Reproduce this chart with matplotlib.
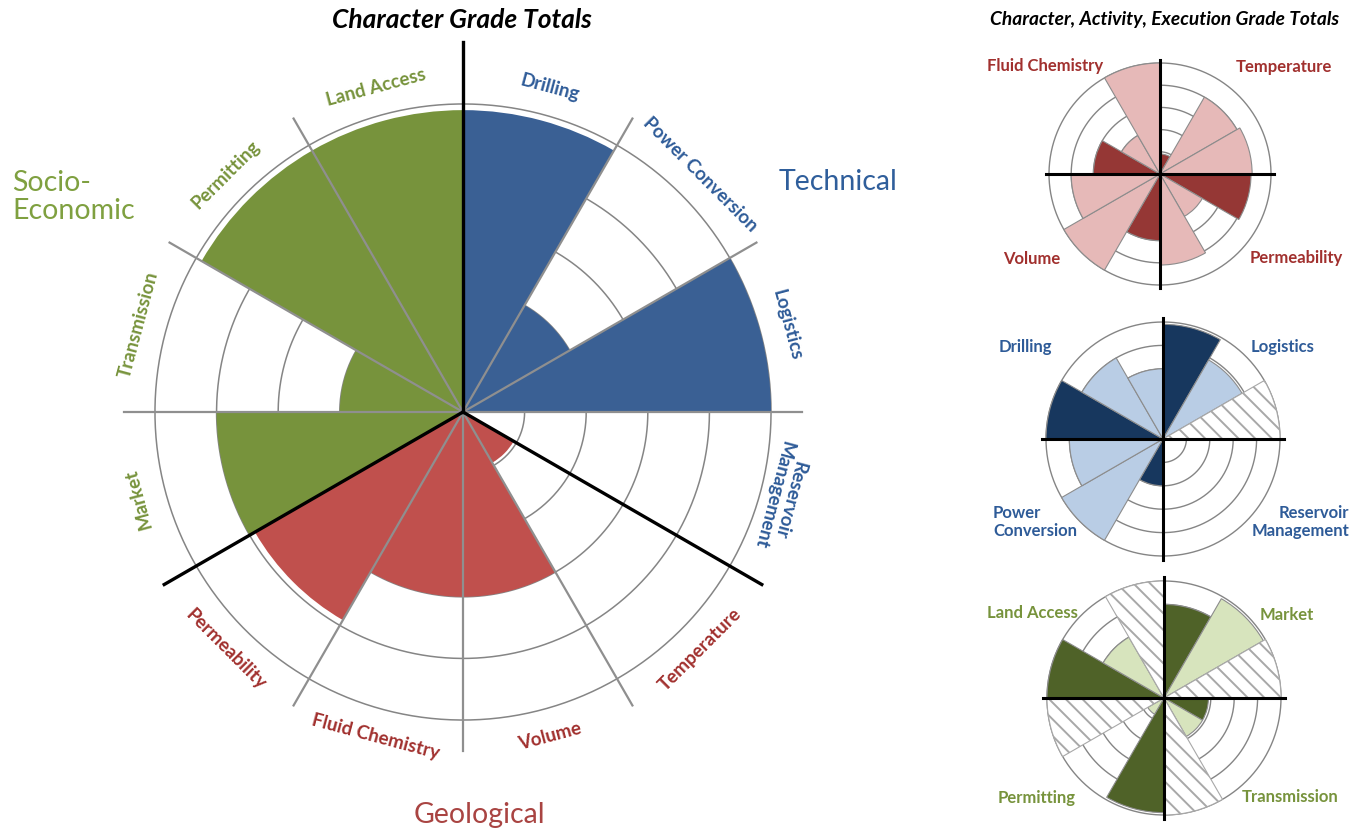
import numpy as np
import matplotlib.pyplot as plt

plt.rcParams['font.family'] = ['Lato', 'DejaVu Sans']
plt.rcParams['hatch.linewidth'] = 1.4

# main chart: character grade totals, sectors clockwise from north
categories = ['Drilling', 'Power Conversion', 'Logistics', 'Reservoir\nManagement',
              'Temperature', 'Volume', 'Fluid Chemistry', 'Permeability',
              'Market', 'Transmission', 'Permitting', 'Land Access']
groups = ['Technical'] * 4 + ['Geological'] * 4 + ['Socio-Economic'] * 4
character = [4.9, 2.0, 5.0, 0.0, 0.95, 3.0, 3.0, 3.9, 4.0, 2.0, 4.9, 4.9]

# small charts: character / activity / execution per quadrant (clockwise from north)
# nan = hatched (not graded)
geo_names = ['Temperature', 'Permeability', 'Volume', 'Fluid Chemistry']
geo_char = [0.9, 4.1, 3.0, 3.0]
geo_act = [4.0, 2.2, 5.0, 2.0]
geo_exec = [4.15, 4.1, 4.0, 5.0]

tech_names = ['Logistics', 'Reservoir\nManagement', 'Power\nConversion', 'Drilling']
tech_char = [4.9, 0.0, 2.0, 5.0]
tech_act = [3.9, 0.0, 5.0, 4.0]
tech_exec = [np.nan, 0.0, 4.0, 3.0]

soc_names = ['Market', 'Transmission', 'Permitting', 'Land Access']
soc_char = [4.0, 1.9, 4.9, 5.0]
soc_act = [4.9, 1.9, 0.8, 3.0]
soc_exec = [np.nan, np.nan, np.nan, np.nan]

bar_col = {'Technical': '#3a6094', 'Geological': '#c0504d', 'Socio-Economic': '#77933c'}
txt_col = {'Technical': '#2e5b98', 'Geological': '#a1302e', 'Socio-Economic': '#77933c'}

W, H = 1362, 834
fig = plt.figure(figsize=(W / 100, H / 100), dpi=100)


def px(x, y):
    return x / W, 1 - y / H


def polar_at(cx, cy, rad):
    ax = fig.add_axes([(cx - rad) / W, (H - cy - rad) / H, 2 * rad / W, 2 * rad / H],
                      projection='polar')
    ax.set_theta_zero_location('N')
    ax.set_theta_direction(-1)
    ax.set_axis_off()
    return ax


# ---- main chart
ax = polar_at(463, 412, 345)
ax.set_ylim(0, 5.6)
step = np.deg2rad(30)
theta = np.arange(12) * step + step / 2
circ = np.linspace(0, 2 * np.pi, 400)
for r in range(1, 6):
    ax.plot(circ, np.full_like(circ, r), color='#858585', lw=1.1, zorder=1)
ax.bar(theta, character, width=step, color=[bar_col[g] for g in groups],
       edgecolor='none', zorder=2)
for i in range(12):
    if i % 4 == 0:
        continue
    ax.plot([i * step] * 2, [0, 5.5], color='#8f8f8f', lw=1.6, zorder=3, clip_on=False)
ax.plot([0, 0], [0, 6.0], color='black', lw=2.4, zorder=4, clip_on=False)
for t in (120, 240):
    ax.plot([np.deg2rad(t)] * 2, [0, 5.6], color='black', lw=2.4, zorder=4, clip_on=False)

for t, lab, g in zip(theta, categories, groups):
    deg = np.rad2deg(t)
    rot = 180 - deg if 120 < deg < 240 else -deg
    rr = 5.35 if '\n' in lab else 5.45
    ax.text(t, rr, lab, rotation=rot, rotation_mode='anchor', ha='center', va='center',
            color=txt_col[g], fontsize=13.5, fontweight='bold', linespacing=1.0,
            clip_on=False)

fig.text(*px(462, 20), 'Character Grade Totals', ha='center', va='center',
         fontsize=19, fontweight='bold', fontstyle='italic')
fig.text(*px(838, 182), 'Technical', ha='center', va='center', fontsize=20.5,
         color='#2f5e9b')
fig.text(*px(12, 197), 'Socio-\nEconomic', ha='left', va='center', fontsize=20.5,
         color='#7fa040', linespacing=1.1)
fig.text(*px(479, 815), 'Geological', ha='center', va='center', fontsize=20.5,
         color='#a94442')

fig.text(*px(1165, 20), 'Character, Activity, Execution Grade Totals', ha='center',
         va='center', fontsize=13.8, fontweight='bold', fontstyle='italic')


# ---- small charts
def small(cx, cy, rad, char, act, exe, dark, light, names, label_pos, lab_col):
    a = polar_at(cx, cy, rad * 5.25 / 5)
    a.set_ylim(0, 5.25)
    for r in range(1, 6):
        a.plot(circ, np.full_like(circ, r), color='#858585', lw=1.0, zorder=1)
    for q in range(4):
        vals = [char[q], act[q], exe[q]]
        cols = [dark, light, light]
        for k in range(3):
            t = np.deg2rad(q * 90 + k * 30 + 15)
            if np.isnan(vals[k]):
                a.bar(t, 5, width=step, facecolor='white', edgecolor='#a8a8a8',
                      hatch='\\\\', lw=0.8, zorder=2)
            elif vals[k] > 0:
                a.bar(t, vals[k], width=step, color=cols[k], edgecolor='#8c8c8c',
                      lw=0.8, zorder=2)
    for t in (0, 90, 180, 270):
        a.plot([np.deg2rad(t)] * 2, [0, 5.15], color='black', lw=2.2, zorder=4,
               clip_on=False)
    for name, (x, y, ha) in zip(names, label_pos):
        fig.text(*px(x, y), name, ha=ha, va='center', fontsize=12,
                 fontweight='bold', color=lab_col, linespacing=1.15)


small(1160, 174, 111, geo_char, geo_act, geo_exec, '#953735', '#e6b9b8', geo_names,
      [(1284, 67, 'center'), (1296, 258, 'center'), (1032, 259, 'center'),
       (1045, 66, 'center')], '#a1302e')
small(1163, 439, 117, tech_char, tech_act, tech_exec, '#17375e', '#b9cde5', tech_names,
      [(1283, 347, 'center'), (1349, 522, 'right'), (993, 522, 'left'),
       (1025, 347, 'center')], '#2e5b98')
small(1164, 698, 117, soc_char, soc_act, soc_exec, '#4f6228', '#d7e4bd', soc_names,
      [(1287, 615, 'center'), (1290, 797, 'center'), (1037, 798, 'center'),
       (1032, 613, 'center')], '#77933c')

fig.savefig('out.png', dpi=100)
